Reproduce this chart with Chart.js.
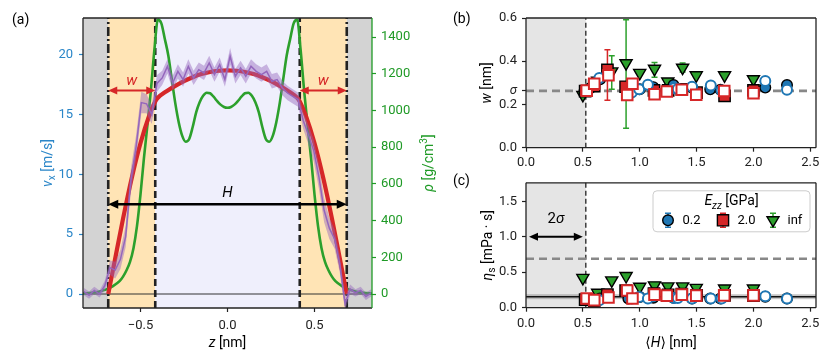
<!DOCTYPE html>
<html><head><meta charset="utf-8">
<script src="https://cdn.jsdelivr.net/npm/chart.js@4.4.1/dist/chart.umd.min.js"></script>
<style>
html,body{margin:0;padding:0;background:#fff;width:830px;height:362px;overflow:hidden;position:relative}
canvas{position:absolute}
</style></head><body>
<canvas id="ca" width="440" height="362" style="left:0;top:0;width:440px;height:362px"></canvas>
<canvas id="cb" width="390" height="175" style="left:440px;top:0;width:390px;height:175px"></canvas>
<canvas id="cc" width="390" height="192" style="left:440px;top:170px;width:390px;height:192px"></canvas>
<script>
// ---------------- Panel (a) data ----------------
const zVel = [-0.825,-0.795,-0.765,-0.735,-0.705,-0.675,-0.645,-0.615,-0.585,-0.555,-0.525,-0.495,-0.465,-0.435,-0.405,-0.375,-0.345,-0.315,-0.285,-0.255,-0.225,-0.195,-0.165,-0.135,-0.105,-0.075,-0.045,-0.015,0.015,0.045,0.075,0.105,0.135,0.165,0.195,0.225,0.255,0.285,0.315,0.345,0.375,0.405,0.435,0.465,0.495,0.525,0.555,0.585,0.615,0.645,0.675,0.705,0.735,0.765,0.795,0.825];
const vxMean = [0.2,-0.1,0.3,0.0,0.7,2.2,2.0,2.9,4.8,9.5,12.3,16.0,15.9,15.0,17.6,18.06,19.03,17.64,18.61,17.92,19.03,18.06,18.75,18.48,19.31,18.34,19.17,17.92,19.87,18.2,18.9,18.2,19.03,18.61,18.34,18.61,17.78,17.92,17.22,16.8,16.52,16.25,14.5,13.3,12.0,9.8,7.0,5.5,4.6,2.5,-0.8,0.4,0.1,0.3,-0.2,0.1];
const vxErr = [0.3,0.3,0.3,0.3,0.4,0.6,0.7,0.8,0.9,1.0,1.0,0.9,0.8,0.8,0.7,0.6,0.6,0.6,0.6,0.6,0.6,0.6,0.6,0.6,0.6,0.6,0.6,0.6,0.7,0.6,0.6,0.6,0.6,0.6,0.6,0.6,0.6,0.6,0.6,0.6,0.6,0.6,0.7,0.8,0.9,1.0,1.0,0.9,0.8,0.7,0.6,0.4,0.3,0.3,0.3,0.3];
const zFit = [-0.685,-0.65,-0.60,-0.55,-0.50,-0.45,-0.415,-0.40,-0.35,-0.30,-0.25,-0.20,-0.15,-0.10,-0.05,0,0.05,0.10,0.15,0.20,0.25,0.30,0.35,0.40,0.415,0.45,0.50,0.55,0.60,0.65,0.685];
const vxFit = [0,2.6,6.3,9.7,12.6,14.9,16.1,16.4,16.95,17.4,17.8,18.12,18.38,18.56,18.66,18.7,18.66,18.56,18.38,18.12,17.8,17.4,16.95,16.4,16.1,14.9,12.6,9.7,6.3,2.6,0];
const zRho = [-0.83,-0.78,-0.74,-0.70,-0.66,-0.62,-0.60,-0.58,-0.56,-0.54,-0.52,-0.50,-0.48,-0.46,-0.44,-0.42,-0.40,-0.38,-0.36,-0.34,-0.32,-0.30,-0.28,-0.26,-0.24,-0.22,-0.20,-0.18,-0.16,-0.14,-0.12,-0.10,-0.08,-0.06,-0.04,-0.02,0,0.02,0.04,0.06,0.08,0.10,0.12,0.14,0.16,0.18,0.20,0.22,0.24,0.26,0.28,0.30,0.32,0.34,0.36,0.38,0.40,0.42,0.44,0.46,0.48,0.50,0.52,0.54,0.56,0.58,0.60,0.62,0.66,0.70,0.74,0.78,0.83];
const rho = [3,7,13,24,42,70,95,130,175,250,370,540,740,920,1110,1330,1495,1475,1390,1300,1170,1040,935,862,830,845,910,990,1045,1080,1097,1094,1075,1052,1032,1019,1015,1019,1032,1052,1075,1094,1097,1080,1045,990,910,845,830,862,935,1040,1170,1300,1390,1475,1495,1330,1110,920,740,540,370,250,175,130,95,70,42,24,13,7,3];
const zWall = 0.685, zLayer = 0.415;   // dash-dot and dashed boundaries [nm]
const vArrowW = 17, vArrowH = 7.5;      // arrow heights [m/s]

// ---------------- Panels (b), (c) data ----------------
const H_blueF = [0.563,0.651,0.90,1.0,1.12,1.297,1.46,1.62,1.71,2.104,2.295];
const w_blueF = [0.275,0.317,0.249,0.270,0.280,0.290,0.278,0.270,0.268,0.278,0.290];
const eta_blueF = [0.12,0.13,0.13,0.15,0.14,0.14,0.13,0.13,0.13,0.155,0.13];
const H_blueO = [0.645,0.93,0.995,1.072,1.30,1.335,1.46,1.625,1.72,2.104,2.295];
const w_blueO = [0.322,0.255,0.270,0.291,0.275,0.272,0.282,0.288,0.265,0.309,0.268];
const eta_blueO = [0.106,0.13,0.15,0.129,0.137,0.137,0.129,0.129,0.129,0.16,0.129];
const H_redF = [0.52,0.60,0.716,0.876,1.125,1.25,1.37,1.50,1.746,2.0];
const w_redF = [0.262,0.285,0.360,0.282,0.265,0.265,0.270,0.255,0.240,0.265];
const eta_redF = [0.115,0.095,0.185,0.24,0.20,0.18,0.19,0.175,0.175,0.17];
const H_redO = [0.534,0.60,0.725,0.89,0.936,1.13,1.238,1.37,1.497,1.743,2.0];
const w_redO = [0.264,0.296,0.335,0.244,0.296,0.247,0.260,0.268,0.245,0.262,0.252];
const eta_redO = [0.129,0.106,0.143,0.243,0.129,0.184,0.170,0.184,0.170,0.174,0.174];
const H_green = [0.50,0.63,0.754,0.88,1.0,1.13,1.247,1.377,1.497,1.746,2.0];
const w_green = [0.244,0.31,0.353,0.391,0.346,0.365,0.306,0.370,0.335,0.335,0.317];
const eta_green = [0.42,0.21,0.385,0.447,0.295,0.315,0.30,0.30,0.28,0.27,0.27];
const errH_green = [0.754,0.88,1.13,1.377];
const errLo_green = [0.27,0.09,0.326,0.35];
const errHi_green = [0.425,0.592,0.394,0.392];
const errH_red = [0.716];
const errLo_red = [0.22];
const errHi_red = [0.453];
const sigma = 0.263;
const twoSigma = 0.526;
const etaBulk = 0.69;
const etaFit = 0.155, etaFitLo = 0.12, etaFitHi = 0.19;
const legendLabels = ['0.2','2.0','inf'];

// ---------------- helpers ----------------
const FONT = 'Roboto, "DejaVu Sans", sans-serif';
const FS = 13;
const C_BLUE='#1f77b4', C_RED='#d62728', C_GREEN='#2ca02c', C_PURPLE='#9467bd';
const AX_BLUE='#2a86c8', AX_GREEN='#1f9a26', DARK='#222';
function setFont(ctx, sz, it){ ctx.font=(it?'italic ':'')+sz+'px '+FONT; }
function segW(ctx, s, sz){ const k=(s.sub||s.sup)?0.72:1; setFont(ctx, sz*k, s.it); return ctx.measureText(s.t).width; }
function drawRich(ctx, segs, x, y, sz, color, align, rot){
  ctx.save(); ctx.translate(x,y); if(rot) ctx.rotate(rot);
  let tot=0; segs.forEach(s=>tot+=segW(ctx,s,sz));
  let cx = align==='left'?0:(align==='right'?-tot:-tot/2);
  ctx.fillStyle=color; ctx.textBaseline='middle'; ctx.textAlign='left';
  segs.forEach(s=>{ const w=segW(ctx,s,sz); const dy=s.sub?sz*0.3:(s.sup?-sz*0.35:0); ctx.fillText(s.t,cx,dy); cx+=w; });
  ctx.restore();
}
function dblArrow(ctx, x1, x2, y, color, lw, hl, hw){
  ctx.save(); ctx.strokeStyle=color; ctx.fillStyle=color; ctx.lineWidth=lw;
  ctx.beginPath(); ctx.moveTo(x1+hl*0.7,y); ctx.lineTo(x2-hl*0.7,y); ctx.stroke();
  const head=(x,d)=>{ctx.beginPath(); ctx.moveTo(x,y); ctx.lineTo(x-d*hl,y-hw); ctx.lineTo(x-d*hl,y+hw); ctx.closePath(); ctx.fill();};
  head(x1,-1); head(x2,1); ctx.restore();
}
function vline(ctx, x, a, color, lw, dash){
  ctx.save(); ctx.strokeStyle=color; ctx.lineWidth=lw; ctx.setLineDash(dash);
  ctx.beginPath(); ctx.moveTo(x,a.bottom); ctx.lineTo(x,a.top); ctx.stroke(); ctx.restore();
}
function hline(ctx, y, a, color, lw, dash){
  ctx.save(); ctx.strokeStyle=color; ctx.lineWidth=lw; ctx.setLineDash(dash||[]);
  ctx.beginPath(); ctx.moveTo(a.left,y); ctx.lineTo(a.right,y); ctx.stroke(); ctx.restore();
}
function spines(ctx, a, cols){
  ctx.save(); ctx.lineWidth=1.3;
  const L=(x1,y1,x2,y2,c)=>{ctx.strokeStyle=c; ctx.beginPath(); ctx.moveTo(x1,y1); ctx.lineTo(x2,y2); ctx.stroke();};
  L(a.left,a.top,a.right,a.top,cols.top); L(a.left,a.bottom,a.right,a.bottom,cols.bottom);
  L(a.left,a.top,a.left,a.bottom,cols.left); L(a.right,a.top,a.right,a.bottom,cols.right);
  ctx.restore();
}
const pts = (xs, ys) => xs.map((x,i)=>({x:x, y:ys[i]}));
const errPts = (hs, lo, hi) => hs.flatMap((h,i)=>[{x:h,y:lo[i]},{x:h,y:hi[i]},{x:h,y:null}]);
const fixedTicks = vals => (s)=>{ s.ticks = vals.map(v=>({value:v})); };
const tickFont = {family:FONT, size:FS};
const gridOff = (c)=>({drawOnChartArea:false, drawTicks:true, tickLength:4, tickWidth:1.2, tickColor:c, color:c});

// ---------------- Panel (a) ----------------
const plugA = {
  id:'plugA',
  beforeDatasetsDraw(chart){
    const {ctx, chartArea:a, scales:{x, y}} = chart;
    const px = v=>x.getPixelForValue(v);
    ctx.save();
    const rect=(x0,x1,c)=>{ctx.fillStyle=c; ctx.fillRect(x0,a.top,x1-x0,a.bottom-a.top);};
    rect(a.left, px(-zWall), '#d3d3d3'); rect(px(zWall), a.right, '#d3d3d3');
    rect(px(-zWall), px(-zLayer), '#ffe4b5'); rect(px(zLayer), px(zWall), '#ffe4b5');
    rect(px(-zLayer), px(zLayer), '#efeffc');
    ctx.restore();
    hline(ctx, y.getPixelForValue(0), a, '#333', 1.1);
    [-zWall, zWall].forEach(z=>vline(ctx, px(z), a, '#222', 2.6, [9,3,2,3]));
    [-zLayer, zLayer].forEach(z=>vline(ctx, px(z), a, '#222', 2.6, [7,4]));
  },
  afterDatasetsDraw(chart){
    const {ctx, scales:{x, y}} = chart;
    const px = v=>x.getPixelForValue(v), py=v=>y.getPixelForValue(v);
    dblArrow(ctx, px(-zWall), px(-zLayer), py(vArrowW), C_RED, 2, 9, 4);
    dblArrow(ctx, px(zLayer), px(zWall), py(vArrowW), C_RED, 2, 9, 4);
    dblArrow(ctx, px(-zWall), px(zWall), py(vArrowH), '#000', 2.5, 10, 4.5);
    drawRich(ctx, [{t:'w', it:true}], px(-(zWall+zLayer)/2), py(vArrowW)-9, 15, C_RED, 'center');
    drawRich(ctx, [{t:'w', it:true}], px((zWall+zLayer)/2), py(vArrowW)-9, 15, C_RED, 'center');
    drawRich(ctx, [{t:'H', it:true}], px(0), py(vArrowH)-11, 15, '#000', 'center');
  },
  afterDraw(chart){
    const {ctx, chartArea:a} = chart;
    spines(ctx, a, {top:DARK, bottom:DARK, left:DARK, right:AX_GREEN});
    drawRich(ctx, [{t:'(a)'}], 12, 20, 14, '#000', 'left');
    drawRich(ctx, [{t:'z', it:true},{t:' [nm]'}], (a.left+a.right)/2, 343, 14, '#000', 'center');
    drawRich(ctx, [{t:'v', it:true},{t:'x', sub:true},{t:' [m/s]'}], 48, (a.top+a.bottom)/2, 14, AX_BLUE, 'center', -Math.PI/2);
    drawRich(ctx, [{t:'ρ', it:true},{t:' [g/cm'},{t:'3', sup:true},{t:']'}], 429, (a.top+a.bottom)/2, 14, AX_GREEN, 'center', -Math.PI/2);
  }
};

const upper = vxMean.map((v,i)=>v+vxErr[i]);
const lower = vxMean.map((v,i)=>v-vxErr[i]);

new Chart(document.getElementById('ca'), {
  type:'line',
  data:{datasets:[
    {data:pts(zVel, upper), borderWidth:0, pointRadius:0, fill:false, yAxisID:'y'},
    {data:pts(zVel, lower), borderWidth:0, pointRadius:0, fill:'-1', backgroundColor:'rgba(148,103,189,0.45)', yAxisID:'y'},
    {data:pts(zVel, vxMean), borderColor:C_PURPLE, borderWidth:1.5, pointRadius:0, fill:false, yAxisID:'y'},
    {data:pts(zFit, vxFit), borderColor:C_RED, borderWidth:4.2, pointRadius:0, fill:false, cubicInterpolationMode:'monotone', yAxisID:'y'},
    {data:pts(zRho, rho), borderColor:C_GREEN, borderWidth:2.6, pointRadius:0, fill:false, cubicInterpolationMode:'monotone', yAxisID:'y2'}
  ]},
  options:{
    responsive:false, animation:false, events:[],
    layout:{padding:{top:18,left:0,right:0,bottom:0}},
    plugins:{legend:{display:false}, tooltip:{enabled:false}},
    scales:{
      x:{type:'linear', min:-0.83, max:0.83, afterBuildTicks:fixedTicks([-0.5,0,0.5]), afterFit:s=>{s.height=54;},
         ticks:{font:tickFont, color:DARK, padding:6, maxRotation:0, callback:v=>(v<0?'−':'')+Math.abs(v).toFixed(1)},
         grid:gridOff(DARK), border:{display:false}},
      y:{position:'left', min:-1.17, max:23.07, afterBuildTicks:fixedTicks([0,5,10,15,20]), afterFit:s=>{s.width=83;},
         ticks:{font:tickFont, color:AX_BLUE, padding:6, callback:v=>String(v)},
         grid:gridOff(AX_BLUE), border:{display:false}},
      y2:{position:'right', min:-76, max:1504, afterBuildTicks:fixedTicks([0,200,400,600,800,1000,1200,1400]), afterFit:s=>{s.width=68;},
         ticks:{font:tickFont, color:AX_GREEN, padding:5, callback:v=>String(v)},
         grid:gridOff(AX_GREEN), border:{display:false}}
    }
  },
  plugins:[plugA]
});

// ---------------- Panels (b), (c) common ----------------
function markerSets(Hs){
  return [
    {label:'blueF', data:pts(H_blueF, Hs.blueF), pointStyle:'circle', pointRadius:5.3, backgroundColor:C_BLUE, borderColor:'#000', borderWidth:1.4, order:4},
    {label:'redF', data:pts(H_redF, Hs.redF), pointStyle:'rect', pointRadius:8, backgroundColor:C_RED, borderColor:'#000', borderWidth:1.4, order:3},
    {label:'green', data:pts(H_green, Hs.green), pointStyle:'triangle', rotation:180, pointRadius:7, backgroundColor:C_GREEN, borderColor:'#000', borderWidth:1.4, order:5},
    {label:'blueO', data:pts(H_blueO, Hs.blueO), pointStyle:'circle', pointRadius:5, backgroundColor:'#fff', borderColor:C_BLUE, borderWidth:2, order:2},
    {label:'redO', data:pts(H_redO, Hs.redO), pointStyle:'rect', pointRadius:7.5, backgroundColor:'#fff', borderColor:C_RED, borderWidth:2, order:1}
  ];
}
function scalesBC(ymax, yticks, ycb, yfont, xh, xpad){
  return {
    x:{type:'linear', min:0, max:2.55, afterBuildTicks:fixedTicks([0,0.5,1,1.5,2,2.5]), afterFit:s=>{s.height=xh;},
       ticks:{font:tickFont, color:DARK, padding:xpad, maxRotation:0, callback:v=>v.toFixed(1)},
       grid:gridOff(DARK), border:{display:false}},
    y:{min:0, max:ymax, afterBuildTicks:fixedTicks(yticks), afterFit:s=>{s.width=86;},
       ticks:{font:yfont, color:DARK, padding:5, autoSkip:false, callback:ycb},
       grid:gridOff(DARK), border:{display:false}}
  };
}
function shadeBC(chart){
  const {ctx, chartArea:a, scales:{x}} = chart;
  ctx.save(); ctx.fillStyle='#e5e5e5';
  ctx.fillRect(a.left, a.top, x.getPixelForValue(twoSigma)-a.left, a.bottom-a.top); ctx.restore();
  vline(ctx, x.getPixelForValue(twoSigma), a, '#222', 1.3, [5,3]);
}

// ---------------- Panel (b) ----------------
const plugB = {
  id:'plugB',
  beforeDatasetsDraw(chart){
    const {ctx, chartArea:a, scales:{y}} = chart;
    shadeBC(chart);
    hline(ctx, y.getPixelForValue(sigma), a, '#888', 2.6, [8,5]);
  },
  afterDraw(chart){
    const {ctx, chartArea:a} = chart;
    spines(ctx, a, {top:DARK,bottom:DARK,left:DARK,right:DARK});
    drawRich(ctx, [{t:'(b)'}], 13, 19, 14, '#000', 'left');
    drawRich(ctx, [{t:'w', it:true},{t:' [nm]'}], 47, (a.top+a.bottom)/2, 14, '#000', 'center', -Math.PI/2);
  }
};
new Chart(document.getElementById('cb'), {
  type:'scatter',
  data:{datasets:[
    {label:'errG', data:errPts(errH_green, errLo_green, errHi_green), showLine:true, spanGaps:false, borderColor:C_GREEN, borderWidth:1.5, pointStyle:'line', pointRadius:3, pointBorderColor:C_GREEN, pointBorderWidth:1.5, order:10},
    {label:'errR', data:errPts(errH_red, errLo_red, errHi_red), showLine:true, spanGaps:false, borderColor:C_RED, borderWidth:1.5, pointStyle:'line', pointRadius:3, pointBorderColor:C_RED, pointBorderWidth:1.5, order:9},
    ...markerSets({blueF:w_blueF, blueO:w_blueO, redF:w_redF, redO:w_redO, green:w_green})
  ]},
  options:{
    responsive:false, animation:false, events:[],
    layout:{padding:{top:18,left:0,right:14,bottom:0}},
    plugins:{legend:{display:false}, tooltip:{enabled:false}},
    scales:scalesBC(0.6, [0,0.2,sigma,0.4,0.6], v=>(Math.abs(v-sigma)<1e-6?'σ':v.toFixed(1)),
      (c)=>({family:FONT, size:FS, style:(c.tick && Math.abs(c.tick.value-sigma)<1e-6)?'italic':'normal'}), 27.3, 3)
  },
  plugins:[plugB]
});

// ---------------- Panel (c) ----------------
const plugC = {
  id:'plugC',
  beforeDatasetsDraw(chart){
    const {ctx, chartArea:a, scales:{y}} = chart;
    shadeBC(chart);
    const y1=y.getPixelForValue(etaFitHi), y2=y.getPixelForValue(etaFitLo);
    ctx.save(); ctx.fillStyle='rgba(128,128,128,0.45)'; ctx.fillRect(a.left,y1,a.right-a.left,y2-y1); ctx.restore();
    hline(ctx, y.getPixelForValue(etaFit), a, '#111', 1.5);
    hline(ctx, y.getPixelForValue(etaBulk), a, '#888', 2.6, [8,5]);
  },
  afterDatasetsDraw(chart){
    const {ctx, scales:{x,y}} = chart;
    dblArrow(ctx, x.getPixelForValue(0)+3, x.getPixelForValue(twoSigma)-3, y.getPixelForValue(1.0), '#000', 2.2, 9, 4);
    drawRich(ctx, [{t:'2'},{t:'σ', it:true}], x.getPixelForValue(twoSigma/2), y.getPixelForValue(1.25), 15, '#000', 'center');
  },
  afterDraw(chart){
    const {ctx, chartArea:a} = chart;
    spines(ctx, a, {top:DARK,bottom:DARK,left:DARK,right:DARK});
    drawRich(ctx, [{t:'(c)'}], 13, 11.5, 14, '#000', 'left');
    drawRich(ctx, [{t:'η', it:true},{t:'s', sub:true},{t:' [mPa · s]'}], 48, (a.top+a.bottom)/2, 14, '#000', 'center', -Math.PI/2);
    drawRich(ctx, [{t:'⟨'},{t:'H', it:true},{t:'⟩ [nm]'}], (a.left+a.right)/2, 173.5, 14, '#000', 'center');
    // legend
    const bw=157, bh=41, bx=a.right-6-bw, by=a.top+8;
    ctx.save();
    ctx.beginPath(); ctx.roundRect(bx,by,bw,bh,4); ctx.fillStyle='rgba(255,255,255,0.85)'; ctx.fill();
    ctx.strokeStyle='#cccccc'; ctx.lineWidth=1; ctx.stroke();
    ctx.restore();
    drawRich(ctx, [{t:'E', it:true},{t:'zz', sub:true, it:true},{t:' [GPa]'}], bx+bw/2, by+11, 14, '#000', 'center');
    const iy = by+29.5;
    const mx = [bx+15, bx+70, bx+120];
    const cols = [C_BLUE, C_RED, C_GREEN];
    ctx.save();
    mx.forEach((m,i)=>{
      ctx.strokeStyle=cols[i]; ctx.lineWidth=1.5;
      ctx.beginPath(); ctx.moveTo(m,iy-7); ctx.lineTo(m,iy+7); ctx.moveTo(m-3,iy-7); ctx.lineTo(m+3,iy-7); ctx.moveTo(m-3,iy+7); ctx.lineTo(m+3,iy+7); ctx.stroke();
      ctx.fillStyle=cols[i]; ctx.strokeStyle='#000'; ctx.lineWidth=1.4; ctx.beginPath();
      if(i===0){ ctx.arc(m,iy,5.3,0,Math.PI*2); }
      else if(i===1){ ctx.rect(m-5.6,iy-5.6,11.2,11.2); }
      else { ctx.moveTo(m-6,iy-3.5); ctx.lineTo(m+6,iy-3.5); ctx.lineTo(m,iy+6.5); ctx.closePath(); }
      ctx.fill(); ctx.stroke();
      drawRich(ctx, [{t:legendLabels[i]}], m+14.5, iy, 13, '#000', 'left');
    });
    ctx.restore();
  }
};
new Chart(document.getElementById('cc'), {
  type:'scatter',
  data:{datasets: markerSets({blueF:eta_blueF, blueO:eta_blueO, redF:eta_redF, redO:eta_redO, green:eta_green})},
  options:{
    responsive:false, animation:false, events:[],
    layout:{padding:{top:9.3,left:0,right:14,bottom:0}},
    plugins:{legend:{display:false}, tooltip:{enabled:false}},
    scales:scalesBC(1.76, [0,0.5,1,1.5], v=>v.toFixed(1), {family:FONT, size:FS}, 54.3, 4.5)
  },
  plugins:[plugC]
});
</script>
</body></html>
